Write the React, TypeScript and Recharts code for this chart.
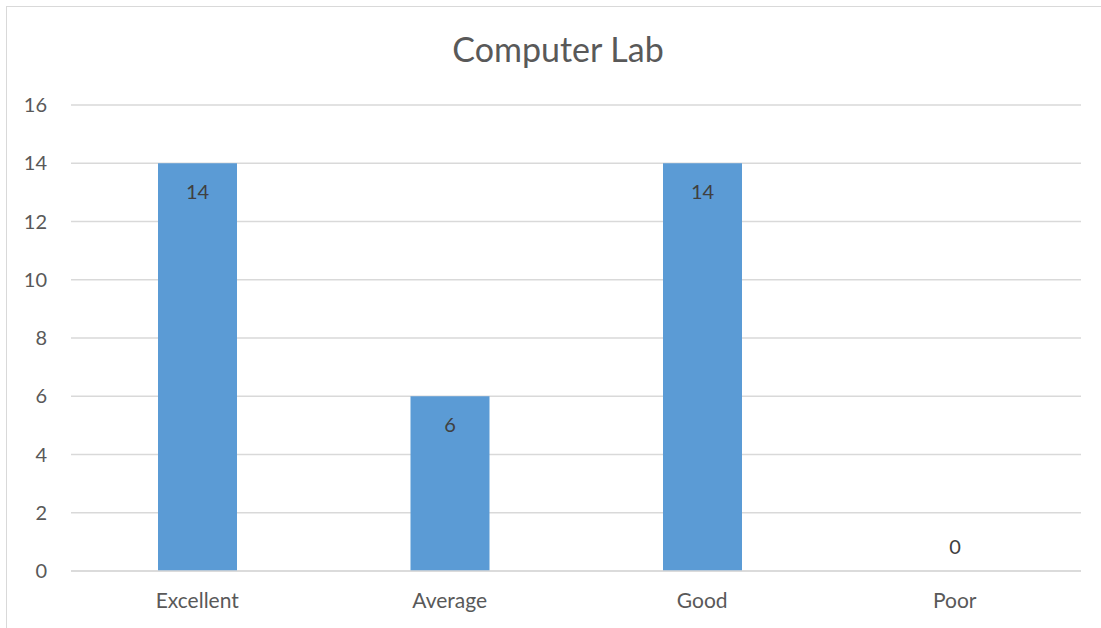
import { BarChart, Bar, XAxis, YAxis, CartesianGrid } from 'recharts'

const categories = ['Excellent', 'Average', 'Good', 'Poor']
const counts = [14, 6, 14, 0]
const yTicks = [0, 2, 4, 6, 8, 10, 12, 14, 16]

const data = categories.map((name, i) => ({ name, value: counts[i] }))

const FONT = 'Lato, "Open Sans", sans-serif'

// Excel-style inside-end label; zero bars get their label above the axis
const renderLabel = (props: any) => {
  const { x, y, width, height, value } = props
  const cx = Number(x) + Number(width) / 2
  const top = Number(y) + (Number(height) < 0 ? Number(height) : 0)
  const ty = value === 0 ? top - 24 : top + 28
  return (
    <text x={cx} y={ty} textAnchor="middle" dominantBaseline="central" fill="#404040" fontSize={20} fontFamily={FONT}>
      {value}
    </text>
  )
}

// zero values keep a 1px slot (for the label) but draw no rectangle
const renderBar = (props: any) => {
  const { x, y, width, height, value } = props
  const v = Array.isArray(value) ? value[1] - value[0] : value
  if (!v) return <g />
  return <rect x={x} y={y} width={width} height={height} fill="#5b9bd5" />
}

export default function App() {
  return (
    <div style={{ position: 'absolute', left: 0, top: 0, width: 1101, height: 628, overflow: 'hidden', background: '#fff' }}>
      {/* chart frame */}
      <div style={{ position: 'absolute', left: 6, top: 6, width: 1110, height: 640, border: '1px solid #d9d9d9' }} />
      <div style={{ position: 'absolute', left: 6, top: 28, width: 1104, textAlign: 'center', fontFamily: FONT, fontSize: 34, color: '#595959' }}>
        Computer Lab
      </div>
      <div style={{ position: 'absolute', left: 0, top: 0 }}>
        <BarChart width={1101} height={628} data={data} margin={{ top: 105, right: 20, bottom: 0, left: 0 }}>
          <CartesianGrid vertical={false} stroke="#d9d9d9" strokeWidth={1.5} />
          <XAxis
            dataKey="name"
            axisLine={{ stroke: '#d9d9d9', strokeWidth: 1.5 }}
            tickLine={false}
            tickSize={0}
            tickMargin={22}
            tick={{ fill: '#595959', fontSize: 21, fontFamily: FONT }}
            height={57}
          />
          <YAxis
            domain={[0, 16]}
            ticks={yTicks}
            axisLine={false}
            tickLine={false}
            tickSize={0}
            tickMargin={24}
            tick={{ fill: '#595959', fontSize: 20, fontFamily: FONT }}
            width={71}
          />
          <Bar
            dataKey="value"
            fill="#5b9bd5"
            barSize={79}
            minPointSize={1}
            shape={renderBar}
            isAnimationActive={false}
            label={renderLabel}
          />
        </BarChart>
      </div>
    </div>
  )
}
